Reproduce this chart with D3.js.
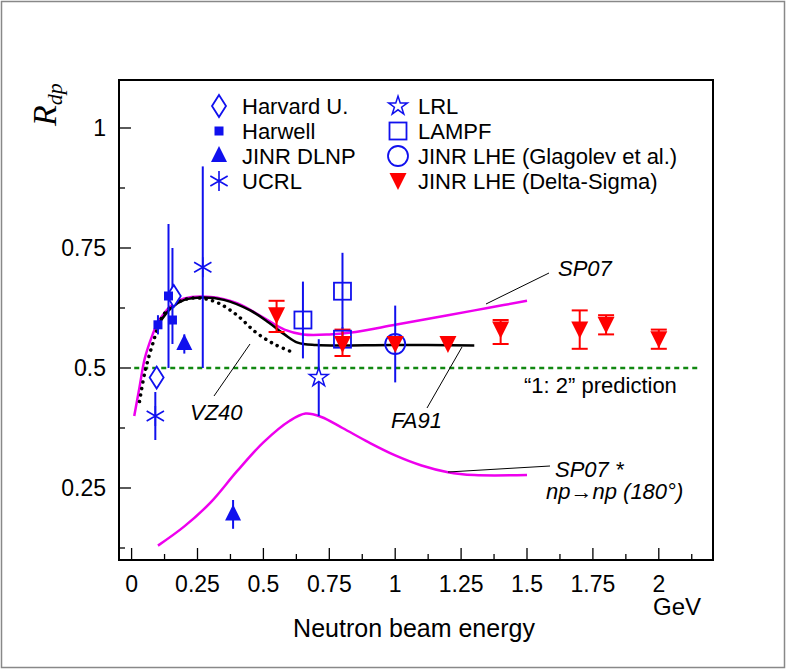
<!DOCTYPE html>
<html><head><meta charset="utf-8">
<script src="https://cdn.jsdelivr.net/npm/d3@7"></script>
<style>body{margin:0;background:#fff}svg{font-family:"Liberation Sans",Arial,sans-serif}</style>
</head><body><div id="chart"></div>
<script>
// data: [E (GeV), R, errLow, errHigh]
var harvard = [[0.095, 0.48, 0.46, 0.50], [0.16, 0.65, 0.63, 0.67]];
var harwell = [[0.10, 0.59, 0.57, 0.61], [0.14, 0.65, 0.50, 0.80], [0.155, 0.60, 0.55, 0.75]];
var dlnp = [[0.20, 0.55, 0.53, 0.57], [0.385, 0.195, 0.165, 0.225]];
var ucrl = [[0.09, 0.40, 0.35, 0.45], [0.27, 0.71, 0.50, 0.92]];
var lrl = [[0.71, 0.48, 0.40, 0.56]];
var lampf = [[0.65, 0.60, 0.52, 0.68], [0.80, 0.66, 0.58, 0.74], [0.80, 0.56, 0.54, 0.585]];
var glagolev = [[1.0, 0.55, 0.47, 0.63]];
var deltaSigma = [[0.55, 0.61, 0.575, 0.64], [0.80, 0.55, 0.525, 0.58], [1.0, 0.55, 0.55, 0.55],
  [1.2, 0.55, 0.55, 0.55], [1.4, 0.58, 0.55, 0.60], [1.7, 0.58, 0.54, 0.62],
  [1.8, 0.59, 0.57, 0.61], [2.0, 0.56, 0.54, 0.58]];

var sp07 = [[0.01, 0.40], [0.03, 0.46], [0.05, 0.52], [0.08, 0.57], [0.1, 0.595], [0.15, 0.63], [0.2, 0.645],
  [0.3, 0.648], [0.4, 0.635], [0.5, 0.605], [0.58, 0.58], [0.65, 0.57], [0.75, 0.57], [0.85, 0.575],
  [1.0, 0.59], [1.2, 0.61], [1.35, 0.625], [1.5, 0.64]];
var fa91 = [[0.1, 0.59], [0.15, 0.625], [0.2, 0.642], [0.27, 0.647], [0.35, 0.642], [0.45, 0.62],
  [0.52, 0.595], [0.58, 0.57], [0.63, 0.553], [0.7, 0.548], [1.0, 0.548], [1.3, 0.547]];
var vz40 = [[0.03, 0.43], [0.05, 0.49], [0.08, 0.55], [0.12, 0.61], [0.17, 0.635], [0.22, 0.645],
  [0.27, 0.645], [0.33, 0.635], [0.4, 0.61], [0.47, 0.575], [0.54, 0.55], [0.61, 0.533]];
var sp07star = [[0.1, 0.13], [0.2, 0.17], [0.3, 0.22], [0.4, 0.285], [0.5, 0.345], [0.6, 0.39],
  [0.66, 0.405], [0.72, 0.398], [0.8, 0.375], [0.9, 0.345], [1.0, 0.318], [1.1, 0.297],
  [1.2, 0.283], [1.3, 0.277], [1.5, 0.277]];

var xTicks = [0, 0.25, 0.5, 0.75, 1, 1.25, 1.5, 1.75, 2];
var yTicks = [0.25, 0.5, 0.75, 1];

var w = 788, h = 671;
var svg = d3.select("#chart").append("svg").attr("width", w).attr("height", h);
svg.append("rect").attr("x", 1.5).attr("y", 1.5).attr("width", w - 5).attr("height", h - 5)
  .attr("fill", "none").attr("stroke", "#888").attr("stroke-width", 1.5);

var L = 119, R = 713, T = 80, B = 560;
var x = d3.scaleLinear().domain([0, 2]).range([131.6, 658.8]);
var y = d3.scaleLinear().domain([0.25, 1]).range([488, 128]);

var blue = "#1010ee", red = "#ff0000", mag = "#ee00ee";

// axis ticks (inward)
var xMinor = d3.range(0, 2.2, 0.125);
svg.selectAll(".xt").data(xMinor).enter().append("line")
  .attr("x1", d => x(d)).attr("x2", d => x(d)).attr("y1", B)
  .attr("y2", d => B - (Math.abs(d / 0.25 - Math.round(d / 0.25)) < 1e-6 ? 12 : 6))
  .attr("stroke", "#000").attr("stroke-width", 1.3);
var yMinor = d3.range(0.125, 1.1, 0.125);
svg.selectAll(".yt").data(yMinor).enter().append("line")
  .attr("y1", d => y(d)).attr("y2", d => y(d)).attr("x1", L)
  .attr("x2", d => L + (Math.abs(d / 0.25 - Math.round(d / 0.25)) < 1e-6 ? 12 : 6))
  .attr("stroke", "#000").attr("stroke-width", 1.3);
svg.selectAll(".xl").data(xTicks).enter().append("text")
  .attr("x", d => x(d)).attr("y", B + 32).attr("text-anchor", "middle").attr("font-size", 23)
  .text(d => d);
svg.selectAll(".yl").data(yTicks).enter().append("text")
  .attr("x", L - 13).attr("y", d => y(d) + 8).attr("text-anchor", "end").attr("font-size", 23)
  .text(d => d);
svg.append("text").attr("x", 701).attr("y", 615).attr("text-anchor", "end").attr("font-size", 24).text("GeV");
svg.append("text").attr("x", 414).attr("y", 637).attr("text-anchor", "middle").attr("font-size", 25).text("Neutron beam energy");
var rl = svg.append("text").attr("transform", "translate(56,126) rotate(-90)")
  .attr("font-family", "Liberation Serif,serif").attr("font-style", "italic");
rl.append("tspan").attr("font-size", 34).text("R");
rl.append("tspan").attr("font-size", 22).attr("dy", 6).text("dp");

// 1:2 prediction
svg.append("line").attr("x1", x(0.01)).attr("x2", x(2.15)).attr("y1", y(0.5)).attr("y2", y(0.5))
  .attr("stroke", "#118811").attr("stroke-width", 2.5).attr("stroke-dasharray", "5,4");

var line = d3.line().x(d => x(d[0])).y(d => y(d[1])).curve(d3.curveCatmullRom);
svg.append("path").attr("d", line(sp07)).attr("fill", "none").attr("stroke", mag).attr("stroke-width", 2.5);
svg.append("path").attr("d", line(sp07star)).attr("fill", "none").attr("stroke", mag).attr("stroke-width", 2.5);
svg.append("path").attr("d", line(fa91)).attr("fill", "none").attr("stroke", "#000").attr("stroke-width", 2.5);
svg.append("path").attr("d", line(vz40)).attr("fill", "none").attr("stroke", "#000").attr("stroke-width", 3.5)
  .attr("stroke-dasharray", "0.1,6.5").attr("stroke-linecap", "round");

// error bars
function errs(data, col, caps) {
  var g = svg.append("g").attr("stroke", col).attr("stroke-width", 2);
  data.forEach(function (d) {
    if (d[3] - d[2] < 1e-6) return;
    g.append("line").attr("x1", x(d[0])).attr("x2", x(d[0])).attr("y1", y(d[2])).attr("y2", y(d[3]));
    if (caps) [d[2], d[3]].forEach(v => g.append("line").attr("x1", x(d[0]) - 8).attr("x2", x(d[0]) + 8)
      .attr("y1", y(v)).attr("y2", y(v)));
  });
}
[harvard, harwell, dlnp, ucrl, lrl, lampf, glagolev].forEach(a => errs(a, blue, false));
errs(deltaSigma, red, true);

function sym(g, type, cx, cy) {
  if (type == "diamond") g.append("path").attr("d", `M${cx},${cy - 11}L${cx + 7},${cy}L${cx},${cy + 11}L${cx - 7},${cy}Z`).attr("fill", "#fff").attr("stroke", blue).attr("stroke-width", 1.8);
  else if (type == "fsquare") g.append("rect").attr("x", cx - 4.5).attr("y", cy - 4.5).attr("width", 9).attr("height", 9).attr("fill", blue);
  else if (type == "tri") g.append("path").attr("d", `M${cx},${cy - 10}L${cx + 8},${cy + 6}L${cx - 8},${cy + 6}Z`).attr("fill", blue);
  else if (type == "star6") {
    var p = "";
    [0, 60, 120].forEach(a => { var r = a * Math.PI / 180; p += `M${cx - 10 * Math.sin(r)},${cy - 10 * Math.cos(r)}L${cx + 10 * Math.sin(r)},${cy + 10 * Math.cos(r)}`; });
    g.append("path").attr("d", p).attr("stroke", blue).attr("stroke-width", 1.6);
  } else if (type == "star5") {
    g.append("path").attr("d", d3.symbol(d3.symbolStar, 110)()).attr("transform", `translate(${cx},${cy})`).attr("fill", "#fff").attr("stroke", blue).attr("stroke-width", 1.5);
  } else if (type == "osquare") g.append("rect").attr("x", cx - 8.5).attr("y", cy - 8.5).attr("width", 17).attr("height", 17).attr("fill", "none").attr("stroke", blue).attr("stroke-width", 1.8);
  else if (type == "circle") g.append("circle").attr("cx", cx).attr("cy", cy).attr("r", 10).attr("fill", "none").attr("stroke", blue).attr("stroke-width", 1.8);
  else if (type == "dtri") g.append("path").attr("d", `M${cx - 8.5},${cy - 8}L${cx + 8.5},${cy - 8}L${cx},${cy + 9}Z`).attr("fill", red);
}
var sets = [[harvard, "diamond"], [harwell, "fsquare"], [dlnp, "tri"], [ucrl, "star6"], [lrl, "star5"],
  [lampf, "osquare"], [glagolev, "circle"], [deltaSigma, "dtri"]];
var pts = svg.append("g");
sets.forEach(s => s[0].forEach(d => sym(pts, s[1], x(d[0]), y(d[1]))));

// legend
var legNames = ["Harvard U.", "Harwell", "JINR DLNP", "UCRL", "LRL", "LAMPF", "JINR LHE (Glagolev et al.)", "JINR LHE (Delta-Sigma)"];
var leg = svg.append("g");
legNames.forEach(function (n, i) {
  var col = i < 4 ? 0 : 1, row = i % 4;
  var sx = col ? 398 : 219, sy = 106 + row * 25;
  sym(leg, sets[i][1], sx, sy);
  leg.append("text").attr("x", sx + (col ? 20 : 23)).attr("y", sy + 8).attr("font-size", 22).text(n);
});

// curve labels
function lab(t, tx, ty, x1, y1, x2, y2) {
  svg.append("text").attr("x", tx).attr("y", ty).attr("font-size", 22).attr("font-style", "italic").text(t);
  svg.append("line").attr("x1", x1).attr("y1", y1).attr("x2", x2).attr("y2", y2).attr("stroke", "#000").attr("stroke-width", 1);
}
lab("SP07", 558, 276, 549, 273, 486, 304);
lab("VZ40", 190, 420, 214, 396, 250, 344);
lab("FA91", 391, 428, 427, 408, 462, 347);
lab("SP07 *", 555, 477, 550, 466, 448, 472);
svg.append("text").attr("x", 546).attr("y", 499).attr("font-size", 22).attr("font-style", "italic").text("np\u2192np (180\u00b0)");
svg.append("text").attr("x", 524).attr("y", 393).attr("font-size", 22).text("\u201c1: 2\u201d prediction");

// frame
svg.append("rect").attr("x", L).attr("y", T).attr("width", R - L).attr("height", B - T)
  .attr("fill", "none").attr("stroke", "#000").attr("stroke-width", 2);
</script></body></html>
